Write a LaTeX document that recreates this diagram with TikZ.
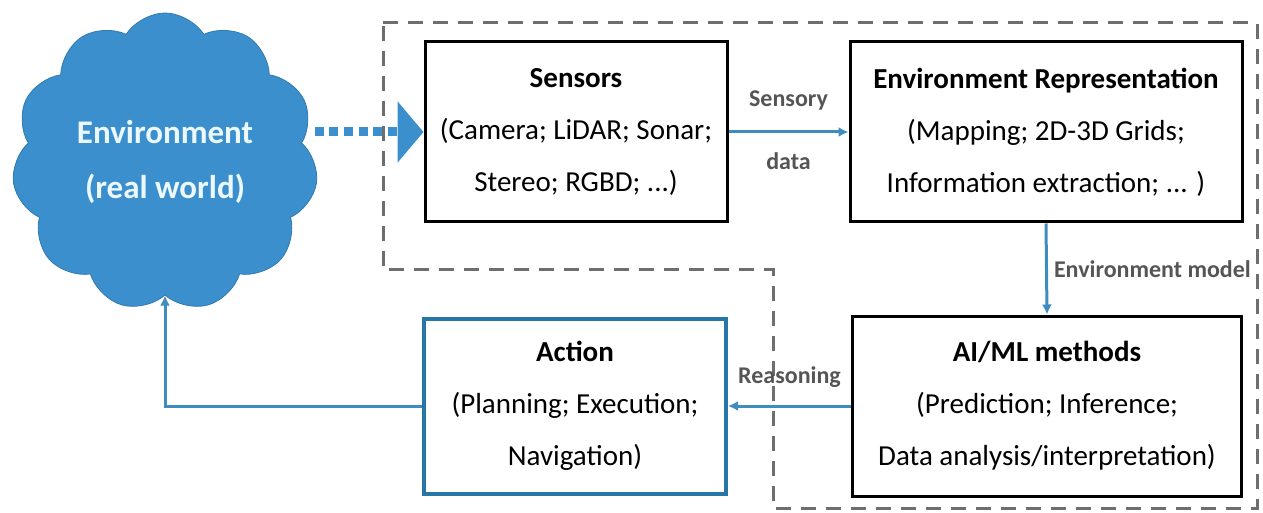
\documentclass[tikz,border=0pt]{standalone}
\usepackage{fontspec}
\setmainfont{Carlito}
\usetikzlibrary{shapes.symbols,arrows.meta}
\definecolor{cloudblue}{RGB}{58,143,204}
\definecolor{flowblue}{RGB}{62,140,192}
\definecolor{actblue}{RGB}{38,118,168}
\definecolor{labelgray}{RGB}{85,85,85}
\definecolor{fencegray}{RGB}{110,110,110}

\begin{document}
\begin{tikzpicture}[x=0.5pt,y=-0.5pt,
  box/.style={draw=black, line width=1.5pt, fill=white, inner sep=0pt, align=center,
    font=\fontsize{14.5}{26}\selectfont},
  actbox/.style={box, draw=actblue, line width=2pt},
  flow/.style={draw=flowblue, line width=1.5pt, -{Latex[length=5pt,width=5pt]}},
  dotflow/.style={draw=cloudblue, line width=4.5pt, dash pattern=on 4.5pt off 2.8pt,
    -{Triangle[length=13pt,width=30pt]}},
  flowlabel/.style={inner sep=0pt, text=labelgray, font=\fontsize{12}{14}\selectfont\bfseries},
  fence/.style={draw=fencegray, line width=1.5pt, dash pattern=on 7.5pt off 5pt}]
\useasboundingbox (0,0) rectangle (1263,513);
% dashed frame round the perception part
\draw[fence] (383,23) -- (1257,23) -- (1257,508) -- (773,508) -- (773,270) -- (383,270) -- cycle;
% the environment
\node[shape=cloud, cloud puffs=11, cloud puff arc=115, cloud ignores aspect, fill=cloudblue, draw=cloudblue!85!black,
  minimum width=153pt, minimum height=149pt, align=center, text=white!92!cyan,
  font=\fontsize{16.5}{27.5}\selectfont\bfseries] (env) at (165,162) {Environment\\(real world)};
% blocks
\node[box, minimum width=151pt, minimum height=90pt] (sensors) at (576,132)
  {\textbf{Sensors}\\(Camera; LiDAR; Sonar;\\Stereo; RGBD; ...)};
\node[box, minimum width=196pt, minimum height=90pt] (envrep) at (1046,132)
  {\textbf{Environment Representation}\\(Mapping; 2D-3D Grids;\\Information extraction; ... )};
\node[box, minimum width=194.5pt, minimum height=90pt] (aiml) at (1047,406)
  {\textbf{AI/ML methods}\\(Prediction; Inference;\\Data analysis/interpretation)};
\node[actbox, minimum width=151pt, minimum height=87.5pt] (action) at (575,406)
  {\textbf{Action}\\(Planning; Execution;\\Navigation)};
% connectors
\draw[dotflow] (env.east |- sensors.west) -- (sensors.west);
\draw[flow] (sensors.east) -- node[flowlabel, above=10pt] (sensory) {Sensory}
  node[flowlabel, below=9.5pt] (data) {data} (envrep.west);
\draw[flow] (envrep.south) -- node[flowlabel, right=3pt] (envmodel) {Environment model} (aiml.north);
\draw[flow] (aiml.west) -- node[flowlabel, above=8.5pt] (reasoning) {Reasoning} (action.east);
\draw[flow] (action.west) -| (env.south);
\end{tikzpicture}
\end{document}
